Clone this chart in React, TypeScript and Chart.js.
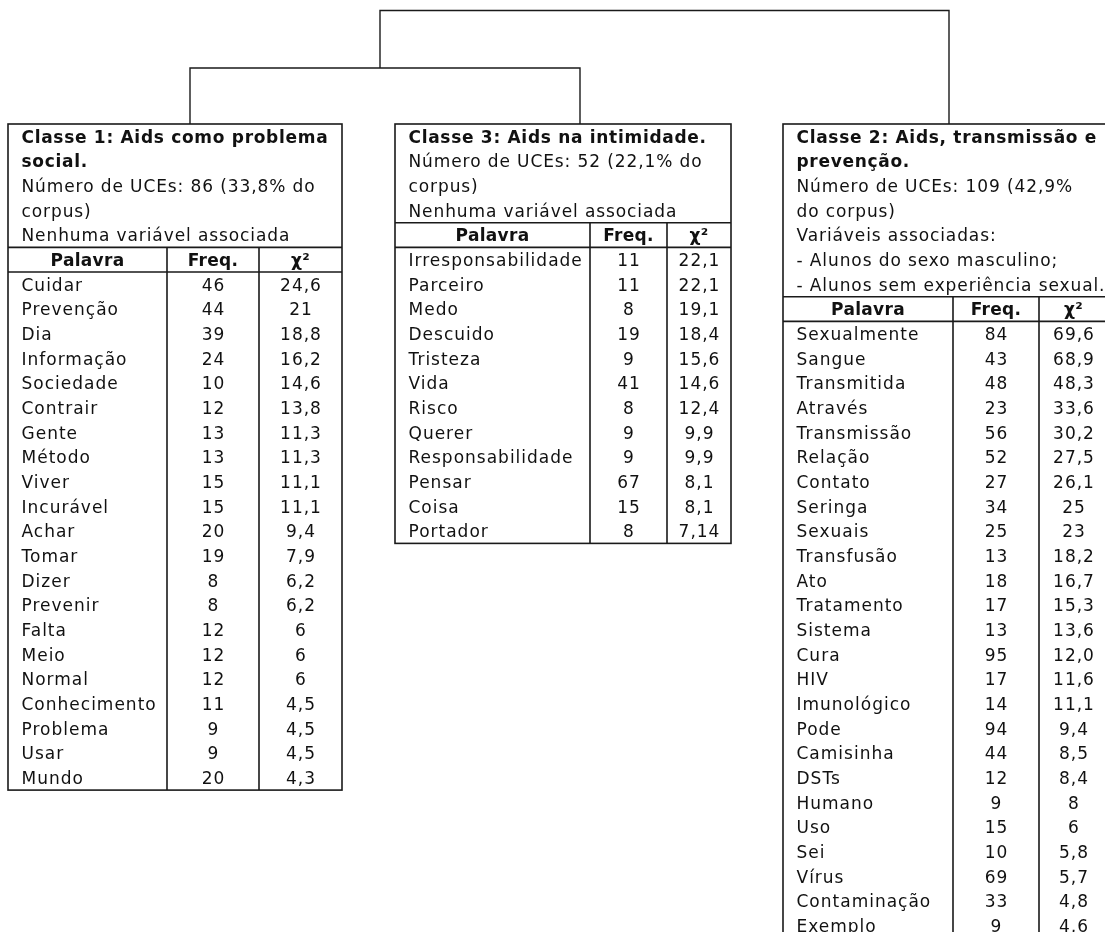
import React, { useEffect, useRef } from "react";
import { Chart, registerables } from "chart.js";

Chart.register(...registerables);

// ---------------- data ----------------
const class1Title = ["Classe 1: Aids como problema", "social."];
const class1Info = ["Número de UCEs: 86 (33,8% do", "corpus)", "Nenhuma variável associada"];
const class1Words = [
  "Cuidar", "Prevenção", "Dia", "Informação", "Sociedade", "Contrair", "Gente", "Método",
  "Viver", "Incurável", "Achar", "Tomar", "Dizer", "Prevenir", "Falta", "Meio", "Normal",
  "Conhecimento", "Problema", "Usar", "Mundo",
];
const class1Freq = ["46", "44", "39", "24", "10", "12", "13", "13", "15", "15", "20", "19", "8", "8", "12", "12", "12", "11", "9", "9", "20"];
const class1Chi = ["24,6", "21", "18,8", "16,2", "14,6", "13,8", "11,3", "11,3", "11,1", "11,1", "9,4", "7,9", "6,2", "6,2", "6", "6", "6", "4,5", "4,5", "4,5", "4,3"];

const class3Title = ["Classe 3: Aids na intimidade."];
const class3Info = ["Número de UCEs: 52 (22,1% do", "corpus)", "Nenhuma variável associada"];
const class3Words = [
  "Irresponsabilidade", "Parceiro", "Medo", "Descuido", "Tristeza", "Vida", "Risco", "Querer",
  "Responsabilidade", "Pensar", "Coisa", "Portador",
];
const class3Freq = ["11", "11", "8", "19", "9", "41", "8", "9", "9", "67", "15", "8"];
const class3Chi = ["22,1", "22,1", "19,1", "18,4", "15,6", "14,6", "12,4", "9,9", "9,9", "8,1", "8,1", "7,14"];

const class2Title = ["Classe 2: Aids, transmissão e", "prevenção."];
const class2Info = [
  "Número de UCEs: 109 (42,9%", "do corpus)", "Variáveis associadas:",
  "- Alunos do sexo masculino;", "- Alunos sem experiência sexual.",
];
const class2Words = [
  "Sexualmente", "Sangue", "Transmitida", "Através", "Transmissão", "Relação", "Contato",
  "Seringa", "Sexuais", "Transfusão", "Ato", "Tratamento", "Sistema", "Cura", "HIV",
  "Imunológico", "Pode", "Camisinha", "DSTs", "Humano", "Uso", "Sei", "Vírus",
  "Contaminação", "Exemplo",
];
const class2Freq = ["84", "43", "48", "23", "56", "52", "27", "34", "25", "13", "18", "17", "13", "95", "17", "14", "94", "44", "12", "9", "15", "10", "69", "33", "9"];
const class2Chi = ["69,6", "68,9", "48,3", "33,6", "30,2", "27,5", "26,1", "25", "23", "18,2", "16,7", "15,3", "13,6", "12,0", "11,6", "11,1", "9,4", "8,5", "8,4", "8", "6", "5,8", "5,7", "4,8", "4,6"];

const headerLabels = ["Palavra", "Freq.", "χ²"];

// dendrogram: leaves in display order, merges reference leaves (0..2) or earlier merges (3..)
const leafNames = ["Classe 1", "Classe 3", "Classe 2"];
const merges: [number, number][] = [[0, 1], [3, 2]];

// ---------------- layout ----------------
const W = 1105;
const H = 932;
const LINE = 24.67;
const TABLE_TOP = 124;
const FONT = "'DejaVu Sans', Verdana, sans-serif";
const FONT_SIZE = 17;
const INK = "#111111";

const tableLayouts = [
  { cols: [8, 167, 259, 342] },
  { cols: [395, 590, 667, 731] },
  { cols: [783, 953, 1039, 1108] },
];
const leafAnchorX = [190, 580, 949];
const mergeNodeX = [380, 664];
const mergeLevelY = [68, 10.5];

const tables = [
  { title: class1Title, info: class1Info, words: class1Words, freq: class1Freq, chi: class1Chi },
  { title: class3Title, info: class3Info, words: class3Words, freq: class3Freq, chi: class3Chi },
  { title: class2Title, info: class2Info, words: class2Words, freq: class2Freq, chi: class2Chi },
];

function buildDendrogram() {
  const nLeaves = leafNames.length;
  const nodeX = (i: number) => (i < nLeaves ? leafAnchorX[i] : mergeNodeX[i - nLeaves]);
  const nodeY = (i: number) => (i < nLeaves ? TABLE_TOP : mergeLevelY[i - nLeaves]);
  return merges.map(([a, b], k) => {
    const my = mergeLevelY[k];
    return {
      data: [
        { x: nodeX(a), y: nodeY(a) },
        { x: nodeX(a), y: my },
        { x: nodeX(b), y: my },
        { x: nodeX(b), y: nodeY(b) },
      ],
      showLine: true,
      borderColor: "#1a1a1a",
      borderWidth: 1.4,
      pointRadius: 0,
      fill: false,
      tension: 0,
    };
  });
}

const tablesPlugin = {
  id: "tablesPlugin",
  beforeDraw(chart: any) {
    const { ctx } = chart;
    ctx.save();
    ctx.fillStyle = "#ffffff";
    ctx.fillRect(0, 0, chart.width, chart.height);
    ctx.restore();
  },
  afterDatasetsDraw(chart: any) {
    const ctx: CanvasRenderingContext2D = chart.ctx;
    const xs = chart.scales.x;
    const ys = chart.scales.y;
    const X = (v: number) => xs.getPixelForValue(v);
    const Y = (v: number) => ys.getPixelForValue(v);

    tables.forEach((t, ti) => {
      const [c0, c1, c2, c3] = tableLayouts[ti].cols;
      const nInfo = t.title.length + t.info.length;
      const infoBottom = TABLE_TOP + nInfo * LINE;
      const headBottom = infoBottom + LINE;
      const bottom = headBottom + t.words.length * LINE;

      ctx.save();
      ctx.strokeStyle = "#1a1a1a";
      ctx.lineWidth = 1.6;
      ctx.strokeRect(X(c0), Y(TABLE_TOP), X(c3) - X(c0), Y(bottom) - Y(TABLE_TOP));
      ctx.beginPath();
      ctx.moveTo(X(c0), Y(infoBottom));
      ctx.lineTo(X(c3), Y(infoBottom));
      ctx.moveTo(X(c0), Y(headBottom));
      ctx.lineTo(X(c3), Y(headBottom));
      ctx.moveTo(X(c1), Y(infoBottom));
      ctx.lineTo(X(c1), Y(bottom));
      ctx.moveTo(X(c2), Y(infoBottom));
      ctx.lineTo(X(c2), Y(bottom));
      ctx.stroke();

      ctx.fillStyle = INK;
      ctx.textBaseline = "alphabetic";
      const pad = 13.5;
      const base = (lineIdx: number, top: number) => Y(top + (lineIdx + 0.5) * LINE) + 6.2;

      // title (bold) + info lines
      (ctx as any).letterSpacing = "0.7px";
      ctx.font = `bold ${FONT_SIZE}px ${FONT}`;
      ctx.textAlign = "left";
      t.title.forEach((s, i) => ctx.fillText(s, X(c0 + pad), base(i, TABLE_TOP)));
      (ctx as any).letterSpacing = "0.9px";
      ctx.font = `${FONT_SIZE}px ${FONT}`;
      t.info.forEach((s, i) => ctx.fillText(s, X(c0 + pad), base(i + t.title.length, TABLE_TOP)));

      // header
      (ctx as any).letterSpacing = "0.3px";
      ctx.font = `bold ${FONT_SIZE}px ${FONT}`;
      ctx.textAlign = "center";
      const centers = [(c0 + c1) / 2, (c1 + c2) / 2, (c2 + c3) / 2];
      headerLabels.forEach((s, i) => ctx.fillText(s, X(centers[i]), base(0, infoBottom)));

      // rows
      (ctx as any).letterSpacing = "1px";
      ctx.font = `${FONT_SIZE}px ${FONT}`;
      t.words.forEach((w, r) => {
        const b = base(r, headBottom);
        ctx.textAlign = "left";
        ctx.fillText(w, X(c0 + pad), b);
        ctx.textAlign = "center";
        ctx.fillText(t.freq[r], X(centers[1]) + 0.5, b);
        ctx.fillText(t.chi[r], X(centers[2]) + 0.5, b);
      });
      ctx.restore();
    });
  },
};

export default function App() {
  const ref = useRef<HTMLCanvasElement | null>(null);
  useEffect(() => {
    document.body.style.margin = "0";
    document.body.style.overflow = "hidden";
    if (!ref.current) return;
    const chart = new Chart(ref.current, {
      type: "scatter",
      data: { datasets: buildDendrogram() as any },
      options: {
        responsive: false,
        animation: false,
        events: [],
        layout: { padding: 0 },
        plugins: { legend: { display: false }, tooltip: { enabled: false } },
        scales: {
          x: { type: "linear", min: 0, max: W, display: false },
          y: { type: "linear", min: 0, max: H, reverse: true, display: false },
        },
      },
      plugins: [tablesPlugin],
    });
    return () => chart.destroy();
  }, []);
  return (
    <div style={{ width: W, height: H, background: "#fff" }}>
      <canvas ref={ref} width={W} height={H} style={{ display: "block", width: W, height: H }} />
    </div>
  );
}
